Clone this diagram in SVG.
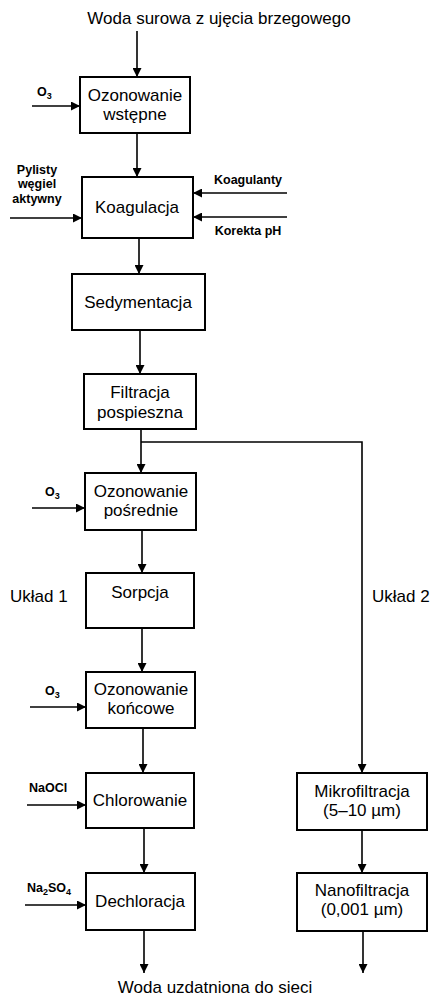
<svg xmlns="http://www.w3.org/2000/svg" width="433" height="999" viewBox="0 0 433 999">
<defs>
<marker id="ah" viewBox="0 0 10 10" refX="10" refY="5" markerWidth="11" markerHeight="9" markerUnits="userSpaceOnUse" orient="auto">
<path d="M0,0 L10,5 L0,10 z" fill="#000"/>
</marker>
<style>
rect.box{fill:#fff;stroke:#000;stroke-width:2}
text{font-family:"Liberation Sans",Arial,sans-serif;fill:#000}
.t{font-size:17px;text-anchor:middle}
.s{font-size:12.5px;font-weight:bold}
.sc{font-size:12.5px;font-weight:bold;text-anchor:middle}
.big{font-size:17px}
line.c,path.c{stroke:#000;stroke-width:1.6;fill:none}
line.a,path.a{stroke:#000;stroke-width:1.6;fill:none;marker-end:url(#ah)}
</style>
</defs>
<rect width="433" height="999" fill="#fff"/>

<text class="t" x="219" y="24">Woda surowa z ujęcia brzegowego</text>

<g id="connectors">
<line class="a" x1="137" y1="31" x2="137" y2="77"/>
<line class="a" x1="32" y1="106" x2="80" y2="106"/>
<line class="a" x1="137" y1="133" x2="137" y2="177"/>
<line class="a" x1="10" y1="218" x2="82" y2="218"/>
<line class="a" x1="287" y1="193" x2="193" y2="193"/>
<line class="a" x1="287" y1="217" x2="193" y2="217"/>
<line class="a" x1="139" y1="238" x2="139" y2="274"/>
<line class="a" x1="140" y1="330" x2="140" y2="374"/>
<line class="c" x1="141" y1="429" x2="141" y2="442"/>
<line class="a" x1="141" y1="442" x2="141" y2="473"/>
<path class="a" d="M141,442 H362 V773"/>
<line class="a" x1="32" y1="508" x2="85" y2="508"/>
<line class="a" x1="142" y1="530" x2="142" y2="573"/>
<line class="a" x1="142" y1="628" x2="142" y2="672"/>
<line class="a" x1="30" y1="707" x2="86" y2="707"/>
<line class="a" x1="143" y1="728" x2="143" y2="773"/>
<line class="a" x1="27" y1="805" x2="86" y2="805"/>
<line class="a" x1="144" y1="828" x2="144" y2="873"/>
<line class="a" x1="25" y1="905" x2="86" y2="905"/>
<line class="a" x1="144" y1="930" x2="144" y2="973"/>
<line class="a" x1="362" y1="830" x2="362" y2="873"/>
<line class="a" x1="363" y1="931" x2="363" y2="973"/>
</g>

<g id="n_ozon_wst">
<rect class="box" x="80" y="77" width="110" height="56"/>
<text class="t" x="135" y="101">Ozonowanie</text>
<text class="t" x="135" y="120">wstępne</text>
</g>
<g id="l_o3_1"><text class="s" x="37" y="96">O<tspan font-size="9" dy="3">3</tspan></text></g>

<g id="n_koag">
<rect class="box" x="82" y="177" width="111" height="61"/>
<text class="t" x="137" y="213">Koagulacja</text>
</g>
<g id="l_pylisty">
<text class="sc" x="37" y="174">Pylisty</text>
<text class="sc" x="37" y="188">węgiel</text>
<text class="sc" x="37" y="203">aktywny</text>
</g>
<g id="l_koagulanty"><text class="sc" x="248" y="184">Koagulanty</text></g>
<g id="l_korekta"><text class="sc" x="248" y="235">Korekta pH</text></g>

<g id="n_sedym">
<rect class="box" x="72" y="274" width="133" height="56"/>
<text class="t" x="138" y="308">Sedymentacja</text>
</g>

<g id="n_filtr">
<rect class="box" x="84" y="374" width="112" height="55"/>
<text class="t" x="140" y="398">Filtracja</text>
<text class="t" x="140" y="418">pospieszna</text>
</g>

<g id="n_ozon_posr">
<rect class="box" x="85" y="473" width="111" height="57"/>
<text class="t" x="141" y="497">Ozonowanie</text>
<text class="t" x="141" y="516">pośrednie</text>
</g>
<g id="l_o3_2"><text class="s" x="45" y="496">O<tspan font-size="9" dy="3">3</tspan></text></g>

<g id="n_sorpcja">
<rect class="box" x="86" y="573" width="108" height="55"/>
<text class="t" x="140" y="598">Sorpcja</text>
</g>
<text class="big" x="10" y="602">Układ 1</text>
<text class="big" x="372" y="602">Układ 2</text>

<g id="n_ozon_konc">
<rect class="box" x="86" y="672" width="109" height="56"/>
<text class="t" x="141" y="695">Ozonowanie</text>
<text class="t" x="141" y="714">końcowe</text>
</g>
<g id="l_o3_3"><text class="s" x="45" y="695">O<tspan font-size="9" dy="3">3</tspan></text></g>

<g id="n_chlor">
<rect class="box" x="86" y="773" width="108" height="55"/>
<text class="t" x="140" y="806">Chlorowanie</text>
</g>
<g id="l_naocl"><text class="s" x="29" y="792">NaOCl</text></g>

<g id="n_dechlor">
<rect class="box" x="86" y="873" width="109" height="57"/>
<text class="t" x="140" y="907">Dechloracja</text>
</g>
<g id="l_na2so4"><text class="s" x="27" y="892">Na<tspan font-size="9" dy="3">2</tspan><tspan dy="-3">SO</tspan><tspan font-size="9" dy="3">4</tspan></text></g>

<g id="n_mikro">
<rect class="box" x="297" y="773" width="130" height="57"/>
<text class="t" x="362" y="797">Mikrofiltracja</text>
<text class="t" x="362" y="816">(5–10 µm)</text>
</g>

<g id="n_nano">
<rect class="box" x="297" y="873" width="130" height="58"/>
<text class="t" x="362" y="896">Nanofiltracja</text>
<text class="t" x="362" y="915">(0,001 µm)</text>
</g>

<text class="t" x="215" y="993">Woda uzdatniona do sieci</text>
</svg>
